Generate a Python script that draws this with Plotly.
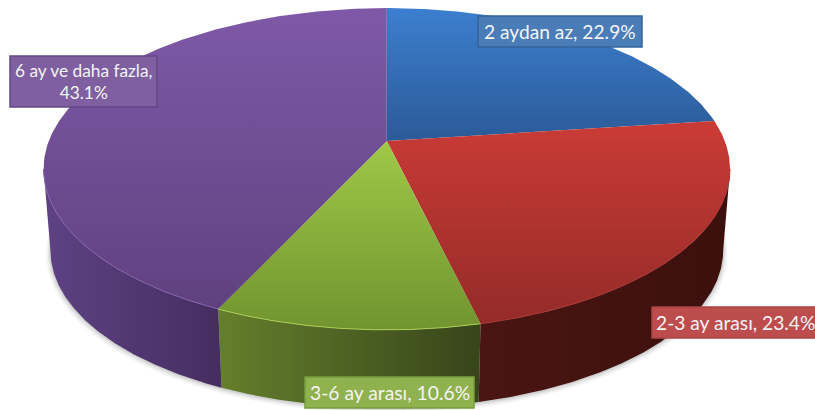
import numpy as np
import plotly.graph_objects as go

categories = ["2 aydan az", "2-3 ay arası", "3-6 ay arası", "6 ay ve daha fazla"]
values = [22.9, 23.4, 10.6, 43.1]
label_texts = ["2 aydan az, 22.9%", "2-3 ay arası, 23.4%", "3-6 ay arası, 10.6%", "6 ay ve daha fazla,<br>43.1%"]

# Perspective projection of the pie disc onto the page (pixels)
CX, CY, A, B, K = 386.8, 141.0, 338.0, 156.0, 0.174
DEPTH, SHRINK = 82.0, 0.98


def top(theta):
    u, v = np.sin(theta), np.cos(theta)
    d = 1 + K * v
    return CX + A * u / d, CY - B * v / d


def bottom(theta, grow=0.0, drop=0.0):
    x, y = top(theta)
    s = SHRINK + grow
    return CX + (x - CX) * s, CY + DEPTH + drop + (y - CY) * s


top_grad = [("#3c7fcf", "#2b5a97"), ("#cb3b36", "#942b28"), ("#9fc847", "#71942f"), ("#7f59a8", "#60417f")]
wall_grad = [None, ("#4a1512", "#3c100d"), ("#647f2c", "#37451a"), ("#5e4283", "#452d60")]
rim = [None, "#a83833", "#aacf55", "#8562ad"]
box_bg = ["#4a7cb8", "#bd4d4c", "#8fb24e", "#7f5f9f"]
box_line = ["#36639b", "#a94443", "#7a9c3e", "#634a83"]
boxes = [(478, 16, 642, 47), (652, 307, 830, 338), (305, 377, 474, 408), (10, 56, 157, 107)]
font_sizes = [19.2, 19.2, 19.3, 17.3]

fig = go.Figure()
pct = np.array(values) / sum(values)
edges = np.concatenate([[0], np.cumsum(pct)]) * 2 * np.pi
LO, HI = np.arccos(-K), 2 * np.pi - np.arccos(-K)


def poly(x, y, colors=None, orient="vertical", solid=None, start=None, stop=None):
    kw = dict(x=x, y=y, mode="lines", fill="toself", line=dict(width=0), hoverinfo="skip", showlegend=False)
    if colors:
        kw["fillgradient"] = dict(type=orient, colorscale=[[0, colors[0]], [1, colors[1]]], start=start, stop=stop)
    else:
        kw["fillcolor"] = solid
    fig.add_trace(go.Scatter(**kw))


# soft shadow under the front edge
t = np.linspace(LO - 0.15, HI + 0.15, 240)
for g, d, a in [(0.012, 3, 0.07), (0.007, 2, 0.10), (0.003, 1, 0.14)]:
    bx, by = bottom(t, g, d)
    poly(bx, by, solid=f"rgba(90,90,90,{a})")

# side walls
for i in range(4):
    a0, a1 = max(edges[i], LO), min(edges[i + 1], HI)
    if wall_grad[i] is None or a1 <= a0:
        continue
    t = np.linspace(a0, a1, 160)
    tx, ty = top(t)
    bx, by = bottom(t)
    xs = np.concatenate([tx, bx[::-1], tx[:1]])
    ys = np.concatenate([ty, by[::-1], ty[:1]])
    poly(xs, ys, colors=wall_grad[i], orient="horizontal", start=float(xs.min()), stop=float(xs.max()))

# top faces
for i in range(4):
    t = np.linspace(edges[i], edges[i + 1], 200)
    tx, ty = top(t)
    xs = np.concatenate([[CX], tx, [CX]])
    ys = np.concatenate([[CY], ty, [CY]])
    poly(xs, ys, colors=top_grad[i], start=float(ys.min()), stop=float(ys.max()))

# light rim along the front edge
for i in range(4):
    a0, a1 = max(edges[i], LO), min(edges[i + 1], HI)
    if rim[i] is None or a1 <= a0:
        continue
    t = np.linspace(a0, a1, 160)
    tx, ty = top(t)
    fig.add_trace(go.Scatter(x=tx, y=ty, mode="lines", line=dict(color=rim[i], width=1), hoverinfo="skip", showlegend=False))

# data-label boxes
for i, (x0, y0, x1, y1) in enumerate(boxes):
    fig.add_shape(type="rect", x0=x0, y0=y0, x1=x1, y1=y1, fillcolor=box_bg[i], line=dict(color=box_line[i], width=1.5), layer="above")
    xc = 735.5 if i == 1 else (x0 + x1) / 2
    fig.add_annotation(x=xc, y=(y0 + y1) / 2, text=label_texts[i], showarrow=False, align="center",
                       font=dict(family="Lato", size=font_sizes[i], color="#f4f4f4"))

fig.update_layout(
    width=815, height=410, autosize=False, margin=dict(l=0, r=0, t=0, b=0),
    paper_bgcolor="white", plot_bgcolor="white", showlegend=False,
    xaxis=dict(range=[0, 815], visible=False, fixedrange=True),
    yaxis=dict(range=[410, 0], visible=False, fixedrange=True),
)
fig.write_html("out.html", config=dict(displayModeBar=False),
               post_script="document.body.style.margin='0';document.body.style.overflow='hidden';")
